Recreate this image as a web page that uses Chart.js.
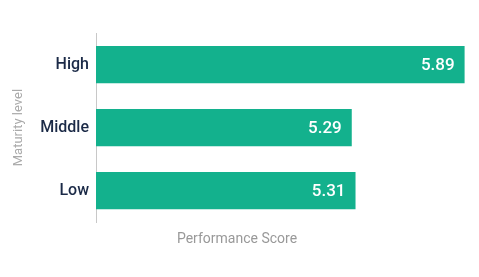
<!DOCTYPE html>
<html>
<head>
<meta charset="utf-8">
<script src="https://cdn.jsdelivr.net/npm/chart.js@4/dist/chart.umd.min.js"></script>
<style>
  html, body { margin: 0; padding: 0; background: #fff; }
  #wrap { width: 479px; height: 277px; }
</style>
</head>
<body>
<div id="wrap"><canvas id="chart" width="479" height="277"></canvas></div>
<script>
// data
const levels = ['High', 'Middle', 'Low'];
const scores = [5.89, 5.29, 5.31];
const xMin = 3.93;
const xMax = 5.94;

const FONT = "Roboto, 'Liberation Sans', sans-serif";
const BAR = '#13b18d';

// white value labels at the end of each bar
const valueLabels = {
  id: 'valueLabels',
  afterDatasetsDraw(chart) {
    const ctx = chart.ctx;
    const meta = chart.getDatasetMeta(0);
    ctx.save();
    ctx.fillStyle = '#ffffff';
    ctx.font = '500 17px ' + FONT;
    ctx.textAlign = 'right';
    ctx.textBaseline = 'middle';
    meta.data.forEach((bar, i) => {
      ctx.fillText(scores[i].toFixed(2), bar.x - 10, bar.y + 1);
    });
    ctx.restore();
  }
};

new Chart(document.getElementById('chart').getContext('2d'), {
  type: 'bar',
  data: {
    labels: levels,
    datasets: [{
      data: scores,
      backgroundColor: BAR,
      borderWidth: 0,
      categoryPercentage: 1,
      barPercentage: 0.59
    }]
  },
  options: {
    indexAxis: 'y',
    responsive: false,
    animation: false,
    layout: { padding: { top: 33, right: 5, bottom: 29, left: 0 } },
    plugins: {
      legend: { display: false },
      tooltip: { enabled: false },
      title: {
        display: true,
        position: 'bottom',
        text: 'Performance Score',
        color: '#999999',
        font: { family: FONT, size: 14, weight: 'normal' },
        padding: { top: 9, bottom: 0 }
      }
    },
    scales: {
      x: {
        display: false,
        min: xMin,
        max: xMax
      },
      y: {
        afterFit(scale) { scale.width = 96; },
        grid: { display: false, drawTicks: false },
        border: { display: true, color: '#c8c8c8', width: 1 },
        ticks: {
          color: '#1b2a47',
          padding: 7,
          font: { family: FONT, size: 16, weight: '500' }
        },
        title: {
          display: true,
          text: 'Maturity level',
          color: '#aaaaaa',
          font: { family: FONT, size: 13, weight: 'normal' },
          padding: { top: 11, bottom: 0 }
        }
      }
    }
  },
  plugins: [valueLabels]
});
</script>
</body>
</html>
